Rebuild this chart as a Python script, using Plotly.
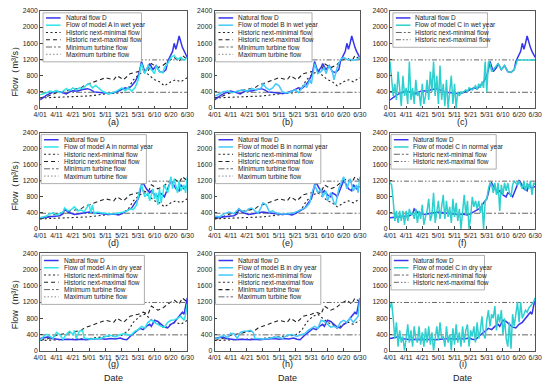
import plotly.graph_objects as go

W, H = 550, 390

# ---------------- axes ----------------
tick_days = [0, 10, 20, 30, 40, 50, 60, 70, 80, 90]
tick_labels = ["4/01", "4/11", "4/21", "5/01", "5/11", "5/21", "5/31", "6/10", "6/20", "6/30"]
y_ticks = [0, 400, 800, 1200, 1600, 2000, 2400]
panel_letters = ["(a)", "(b)", "(c)", "(d)", "(e)", "(f)", "(g)", "(h)", "(i)"]

# ---------------- data (day index: 0 = 4/01 ... 90 = 6/30) ----------------
turbine_x = [0, 90]
min_turbine = [390, 390]
max_turbine = [1190, 1190]

hist_max_x = [0, 5, 10, 15, 20, 25, 27, 30, 35, 40, 45, 47, 51, 55, 60, 63, 66, 68, 72, 75, 78, 82, 85, 87, 90]
hist_max_y = [250, 300, 380, 420, 460, 500, 560, 600, 680, 750, 700, 800, 700, 850, 900, 950, 900, 1100, 1000, 1050, 1150, 1250, 1150, 1300, 1200]

hist_min_x = [0, 10, 20, 30, 40, 50, 54, 57, 61, 64, 67, 70, 73, 76, 80, 83, 86, 90]
hist_min_y = [250, 270, 280, 300, 350, 380, 500, 700, 850, 900, 800, 700, 650, 550, 650, 700, 650, 750]

# wet year
nat_wet_x = [0, 2, 4, 7, 10, 12, 14, 16, 18, 20, 23, 26, 29, 31, 33, 36, 39, 42, 45, 48, 50, 52, 54, 56, 58, 60, 61, 62, 64, 66, 67, 69, 71, 73, 75, 77, 78, 80, 81, 82, 83, 84, 85, 87, 88, 90]
nat_wet_y = [200, 260, 320, 380, 420, 400, 370, 350, 400, 430, 420, 460, 480, 450, 400, 380, 370, 360, 380, 420, 460, 500, 480, 550, 650, 800, 950, 1150, 900, 1000, 1100, 950, 1050, 900, 880, 950, 1150, 1300, 1400, 1600, 1450, 1600, 1780, 1500, 1400, 1250]

modA_wet_x = [0, 2, 4, 6, 8, 10, 12, 14, 16, 18, 20, 22, 24, 26, 28, 30, 32, 34, 36, 38, 40, 42, 44, 46, 48, 50, 52, 54, 56, 58, 60, 61, 62, 64, 66, 67, 69, 70, 71, 73, 75, 76, 78, 80, 82, 84, 86, 88, 90]
modA_wet_y = [330, 350, 380, 420, 400, 430, 380, 420, 480, 430, 500, 450, 500, 480, 560, 600, 500, 560, 480, 420, 380, 350, 380, 400, 450, 500, 430, 500, 420, 500, 700, 900, 1100, 850, 1050, 1000, 900, 850, 1050, 900, 870, 1000, 1100, 1250, 1300, 1200, 1250, 1180, 1250]

modB_wet_x = [0, 2, 5, 8, 11, 14, 17, 20, 23, 26, 29, 30, 32, 34, 36, 38, 40, 42, 44, 46, 48, 50, 52, 54, 56, 57, 59, 60, 62, 64, 66, 68, 69, 71, 73, 74, 76, 78, 80, 82, 84, 86, 88, 90]
modB_wet_y = [300, 330, 400, 420, 380, 420, 450, 420, 480, 450, 500, 600, 500, 450, 500, 600, 550, 400, 380, 380, 420, 450, 380, 500, 600, 500, 700, 600, 1100, 850, 900, 1000, 850, 1050, 900, 700, 1000, 1200, 1250, 1200, 1200, 1180, 1200, 1250]

modC_wet_x = list(range(0, 65)) + [66, 67, 69, 71, 73, 75, 77, 78, 79, 90]
modC_wet_y = [1150, 700, 300, 600, 200, 900, 400, 50, 800, 300, 500, 100, 1150, 200, 500, 100, 700, 300, 400, 50,
              600, 100, 300, 700, 200, 900, 400, 1150, 300, 800, 100, 1050, 200, 600, 50, 700, 0, 500, 800, 100,
              600, 0, 400, 300, 400, 380, 420, 450, 400, 500, 480, 450, 500, 550, 450, 600, 500, 650, 500, 1150,
              400, 1150, 1100, 900, 950,
              1050, 1100, 950, 1050, 900, 880, 950, 1100, 1190, 1190]

# normal year
nat_nor_x = [0, 3, 6, 9, 12, 14, 15, 17, 19, 21, 24, 27, 30, 33, 36, 39, 42, 45, 48, 50, 52, 54, 56, 58, 60, 61, 62, 63, 65, 67, 68, 70, 72, 73, 75, 76, 78, 80, 81, 83, 85, 86, 88, 89, 90]
nat_nor_y = [280, 290, 300, 310, 330, 380, 500, 420, 380, 360, 380, 400, 420, 400, 390, 380, 360, 370, 350, 380, 430, 480, 520, 650, 750, 900, 1100, 1150, 1000, 900, 950, 850, 800, 900, 850, 800, 1000, 1200, 1150, 1000, 950, 1100, 1000, 1050, 1050]

modA_nor_x = [0, 2, 4, 6, 8, 10, 12, 14, 15, 17, 19, 21, 23, 25, 27, 29, 30, 31, 32, 33, 35, 37, 40, 43, 46, 49, 51, 53, 55, 57, 59, 61, 62, 64, 66, 67, 69, 70, 71, 72, 73, 74, 76, 78, 80, 81, 82, 84, 85, 86, 88, 89, 90]
modA_nor_y = [280, 300, 320, 380, 400, 350, 380, 420, 520, 450, 480, 550, 450, 470, 430, 550, 620, 400, 600, 380, 420, 400, 380, 370, 380, 400, 420, 450, 500, 480, 600, 1000, 1100, 800, 900, 700, 1000, 750, 900, 600, 1000, 650, 1100, 900, 1300, 1000, 1250, 900, 1200, 950, 1100, 900, 1300]

modB_nor_x = [0, 3, 6, 9, 12, 14, 15, 17, 19, 21, 23, 25, 27, 29, 30, 32, 34, 36, 38, 40, 43, 46, 49, 52, 55, 57, 59, 60, 62, 64, 66, 67, 69, 70, 72, 74, 75, 77, 79, 80, 82, 84, 86, 88, 89, 90]
modB_nor_y = [320, 300, 380, 420, 380, 450, 500, 450, 420, 500, 520, 450, 400, 550, 650, 600, 420, 450, 400, 380, 370, 380, 400, 450, 500, 550, 650, 850, 1100, 900, 1000, 800, 950, 700, 900, 650, 600, 1000, 1200, 1300, 1000, 1250, 950, 1100, 900, 1300]

modC_nor_x = list(range(0, 91))
modC_nor_y = [1150, 1100, 700, 200, 450, 150, 450, 200, 450, 100, 450, 200, 500, 350, 400, 250, 500, 150, 450, 250,
              600, 100, 300, 450, 750, 200, 350, 900, 150, 400, 700, 250, 500, 850, 250, 700, 300, 550, 150, 750,
              300, 650, 200, 500, 0, 400, 850, 350, 700, 0, 300, 800, 550, 700, 500, 700, 400, 650, 0, 700,
              750, 1000, 1150, 1100, 900, 1150, 850, 1150, 450, 1100, 850, 1150, 950, 1150, 900, 800, 1100, 1190, 1150, 1100,
              1190, 1100, 1000, 1190, 950, 1150, 1000, 1190, 850, 1150, 1100]

# dry year
nat_dry_x = [0, 3, 5, 7, 10, 13, 16, 19, 22, 25, 28, 31, 34, 37, 40, 43, 46, 49, 51, 53, 55, 57, 59, 61, 63, 65, 67, 68, 70, 72, 74, 76, 78, 80, 82, 84, 86, 87, 88, 89, 90]
nat_dry_y = [300, 320, 340, 300, 280, 270, 280, 270, 270, 280, 270, 280, 290, 300, 280, 300, 290, 310, 280, 270, 350, 420, 480, 550, 520, 600, 650, 600, 750, 720, 650, 580, 560, 650, 700, 800, 900, 950, 900, 1100, 1300]

modA_dry_x = [0, 2, 4, 6, 8, 10, 12, 14, 16, 18, 20, 21, 22, 24, 26, 27, 29, 31, 34, 37, 40, 43, 46, 49, 52, 54, 56, 58, 60, 62, 64, 66, 68, 70, 72, 74, 76, 78, 80, 82, 84, 86, 88, 89, 90]
modA_dry_y = [250, 350, 400, 350, 300, 450, 400, 280, 400, 480, 400, 500, 300, 480, 500, 300, 300, 280, 300, 300, 350, 380, 340, 400, 420, 380, 400, 480, 520, 600, 560, 700, 760, 700, 650, 600, 580, 700, 750, 760, 800, 850, 750, 900, 1150]

modB_dry_x = [0, 2, 4, 6, 8, 10, 12, 14, 16, 18, 20, 22, 24, 25, 27, 30, 33, 36, 39, 42, 45, 48, 51, 54, 56, 58, 60, 62, 64, 66, 68, 70, 72, 74, 76, 78, 80, 82, 84, 86, 88, 89, 90]
modB_dry_y = [320, 300, 350, 380, 320, 430, 420, 300, 450, 480, 480, 500, 450, 300, 300, 280, 300, 320, 340, 300, 380, 400, 350, 400, 420, 500, 550, 600, 550, 750, 720, 650, 580, 600, 560, 700, 750, 700, 800, 700, 800, 850, 1300]

modC_dry_x = list(range(0, 91))
modC_dry_y = [1050, 1200, 800, 300, 700, 100, 500, 200, 350, 0, 300, 650, 200, 500, 100, 600, 300, 200, 600, 150,
              450, 100, 550, 200, 600, 150, 450, 0, 300, 600, 250, 700, 300, 350, 100, 600, 200, 400, 0, 550,
              150, 650, 200, 450, 100, 600, 200, 500, 650, 100, 500, 350, 600, 200, 700, 300, 500, 850, 400, 300,
              750, 1000, 600, 900, 800, 1100, 500, 900, 700, 1000, 400, 800, 300, 100, 700, 50, 900, 600, 900, 1200,
              700, 1200, 800, 900, 1000, 950, 1050, 1100, 1150, 1200, 1300]

# legend labels
LBL_NAT = "Natural flow D"
LBL_HMIN = "Historic next-minimal flow"
LBL_HMAX = "Historic next-maximal flow"
LBL_TMIN = "Minimum turbine flow"
LBL_TMAX = "Maximum turbine flow"
Y_TITLE = "Flow（m³/s）"
X_TITLE = "Date"

# ---------------- styles ----------------
BLUE = "#3535EE"
CYAN_A = "#2FE3EA"
CYAN_B = "#45C8FA"
CYAN_C = "#2ECFCF"
BLACK = "#222222"
GRAY = "#666666"
S_NAT = dict(color=BLUE, dash="solid", width=1.5)
S_HMIN = dict(color=BLACK, dash="2px,2.5px", width=1.1)
S_HMAX = dict(color=BLACK, dash="4px,3px", width=1.1)
S_TMIN = dict(color=GRAY, dash="6px,2px,2px,2px", width=1.0)
S_TMAX = dict(color=GRAY, dash="5px,2px,1.5px,2px,1.5px,2px", width=1.0)
S_TMAX_LEG = dict(color="#888888", dash="1.5px,2px", width=1.0)

nat = {"wet": (nat_wet_x, nat_wet_y), "normal": (nat_nor_x, nat_nor_y), "dry": (nat_dry_x, nat_dry_y)}
models = {
    ("A", "wet"): (modA_wet_x, modA_wet_y), ("B", "wet"): (modB_wet_x, modB_wet_y), ("C", "wet"): (modC_wet_x, modC_wet_y),
    ("A", "normal"): (modA_nor_x, modA_nor_y), ("B", "normal"): (modB_nor_x, modB_nor_y), ("C", "normal"): (modC_nor_x, modC_nor_y),
    ("A", "dry"): (modA_dry_x, modA_dry_y), ("B", "dry"): (modB_dry_x, modB_dry_y), ("C", "dry"): (modC_dry_x, modC_dry_y),
}
model_colors = {"A": CYAN_A, "B": CYAN_B, "C": CYAN_C}
years = ["wet", "normal", "dry"]
model_names = ["A", "B", "C"]

# ---------------- layout geometry (pixels) ----------------
col_left = [34, 213, 393]
col_right = [185, 362, 542]
row_top = [7, 131, 254]
row_bot = [106, 229, 353]
legend_w = [[101, 99, 97], [108, 108, 108], [106, 108, 96]]
legend_dx = [[3, 1, 3], [1, 1, 1], [1, 1, 1]]
letter_y = [120, 243, 367]
date_y = 381

def px(x):
    return x / W

def py(y):
    return 1 - y / H

fig = go.Figure()
layout = dict(
    width=W, height=H, margin=dict(l=0, r=0, t=0, b=0),
    paper_bgcolor="white", plot_bgcolor="white", showlegend=False,
    font=dict(family="Liberation Sans, Arial, sans-serif", size=7, color="#222"),
)
shapes = []
annotations = []

for r, yr in enumerate(years):
    for c, m in enumerate(model_names):
        k = r * 3 + c
        ax = "" if k == 0 else str(k + 1)
        xref, yref = "x" + ax, "y" + ax
        mcol = model_colors[m]
        # traces
        if m != "C":
            fig.add_trace(go.Scatter(x=hist_min_x, y=hist_min_y, mode="lines", line=S_HMIN, xaxis=xref, yaxis=yref, name=LBL_HMIN))
            fig.add_trace(go.Scatter(x=hist_max_x, y=hist_max_y, mode="lines", line=S_HMAX, xaxis=xref, yaxis=yref, name=LBL_HMAX))
        fig.add_trace(go.Scatter(x=turbine_x, y=min_turbine, mode="lines", line=S_TMIN, xaxis=xref, yaxis=yref, name=LBL_TMIN))
        fig.add_trace(go.Scatter(x=turbine_x, y=max_turbine, mode="lines", line=S_TMAX, xaxis=xref, yaxis=yref, name=LBL_TMAX))
        nx, ny = nat[yr]
        fig.add_trace(go.Scatter(x=nx, y=ny, mode="lines", line=S_NAT, xaxis=xref, yaxis=yref, name=LBL_NAT))
        mx, my = models[(m, yr)]
        lbl_model = f"Flow of model {m} in {yr} year"
        fig.add_trace(go.Scatter(x=mx, y=my, mode="lines", line=dict(color=mcol, width=1.5), xaxis=xref, yaxis=yref, name=lbl_model))

        # axes
        layout["xaxis" + ax] = dict(
            domain=[px(col_left[c]), px(col_right[c])], anchor=yref, range=[0, 90],
            tickvals=tick_days, ticktext=tick_labels, ticks="inside", ticklen=2.5,
            showline=True, mirror=True, linecolor="#555", linewidth=1, showgrid=False, zeroline=False,
            tickfont=dict(size=6.8), tickangle=0,
        )
        layout["yaxis" + ax] = dict(
            domain=[py(row_bot[r]), py(row_top[r])], anchor=xref, range=[0, 2400],
            tickvals=y_ticks, ticks="inside", ticklen=2.5,
            showline=True, mirror=True, linecolor="#555", linewidth=1, showgrid=False, zeroline=False,
            tickfont=dict(size=6.8),
        )

        # legend (drawn manually)
        if m == "C":
            items = [(LBL_NAT, S_NAT), (lbl_model, dict(color=mcol, width=1.5, dash="solid")), (LBL_HMIN, S_TMIN), (LBL_HMAX, S_TMAX)]
        elif k == 7:
            items = [(LBL_NAT, S_NAT), (lbl_model, dict(color=mcol, width=1.5, dash="solid")),
                     (LBL_HMIN, dict(color=mcol, width=1.5, dash="solid")), (LBL_HMAX, S_HMIN),
                     (LBL_TMIN, S_HMAX), (LBL_TMAX, S_TMIN)]
        else:
            items = [(LBL_NAT, S_NAT), (lbl_model, dict(color=mcol, width=1.5, dash="solid")), (LBL_HMIN, S_HMIN),
                     (LBL_HMAX, S_HMAX), (LBL_TMIN, S_TMIN), (LBL_TMAX, S_TMAX_LEG)]
        lx0 = col_left[c] + legend_dx[r][c]
        ly0 = row_top[r] + 2
        ly1 = ly0 + 4 + 7.4 * len(items) + 1.5
        shapes.append(dict(type="rect", xref="paper", yref="paper", x0=px(lx0), x1=px(lx0 + legend_w[r][c]),
                           y0=py(ly1), y1=py(ly0), line=dict(color="#9a9a9a", width=0.8), fillcolor="white", layer="above"))
        for i, (txt, st) in enumerate(items):
            yy = ly0 + 5.2 + 7.4 * i
            shapes.append(dict(type="line", xref="paper", yref="paper", x0=px(lx0 + 3), x1=px(lx0 + 18),
                               y0=py(yy), y1=py(yy), line=st, layer="above"))
            annotations.append(dict(text=txt, xref="paper", yref="paper", x=px(lx0 + 21), y=py(yy),
                                    xanchor="left", yanchor="middle", showarrow=False, font=dict(size=6.5, color="#222")))

        # panel label
        annotations.append(dict(text=panel_letters[k], xref="paper", yref="paper",
                                x=px((col_left[c] + col_right[c]) / 2), y=py(letter_y[r]),
                                xanchor="center", yanchor="middle", showarrow=False, font=dict(size=9, color="#222")))

# y titles
for r, cy in enumerate([66, 182, 303]):
    annotations.append(dict(text=Y_TITLE, xref="paper", yref="paper", x=px(8), y=py(cy),
                            xanchor="center", yanchor="middle", textangle=-90, showarrow=False,
                            font=dict(size=9, color="#222")))
# x titles
for c in range(3):
    annotations.append(dict(text=X_TITLE, xref="paper", yref="paper",
                            x=px((col_left[c] + col_right[c]) / 2), y=py(date_y),
                            xanchor="center", yanchor="middle", showarrow=False, font=dict(size=9, color="#222")))

layout["shapes"] = shapes
layout["annotations"] = annotations
fig.update_layout(**layout)
fig.write_html(
    "out.html",
    config={"displayModeBar": False},
    post_script="document.body.style.margin='0px';document.body.style.overflow='hidden';",
)
